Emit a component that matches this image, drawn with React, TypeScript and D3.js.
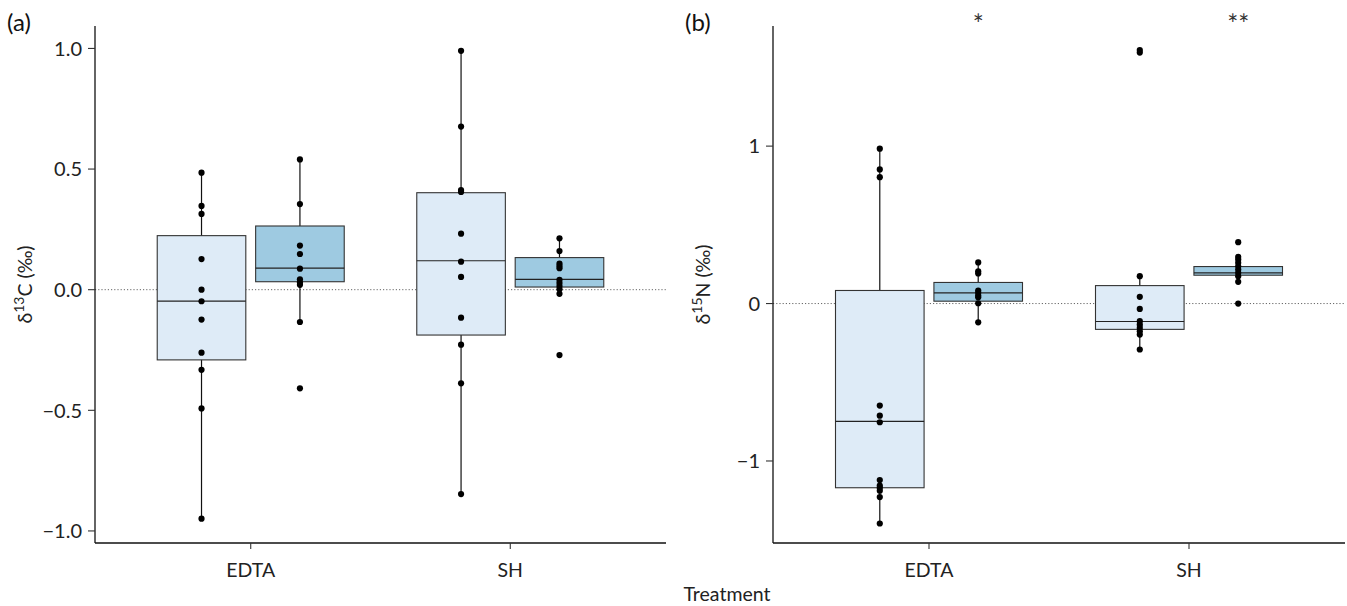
import React from "react";
import * as d3 from "d3";

// categories
const treatments = ["EDTA", "SH"];
const groups = ["untreated", "treated"];

// panel (a) δ13C — raw points
const aEdtaLight = [0.485, 0.347, 0.314, 0.127, 0.0, -0.048, -0.124, -0.261, -0.332, -0.492, -0.949];
const aEdtaDark = [0.54, 0.355, 0.183, 0.148, 0.087, 0.043, 0.03, 0.02, -0.134, -0.409];
const aShLight = [0.99, 0.676, 0.413, 0.405, 0.232, 0.116, 0.053, -0.116, -0.228, -0.388, -0.847];
const aShDark = [0.213, 0.16, 0.108, 0.098, 0.089, 0.041, 0.028, 0.015, 0.002, -0.017, -0.271];

// panel (a) box stats: [whisker low, q1, median, q3, whisker high]
const aEdtaLightBox = [-0.949, -0.291, -0.047, 0.224, 0.485];
const aEdtaDarkBox = [-0.134, 0.033, 0.089, 0.264, 0.54];
const aShLightBox = [-0.847, -0.188, 0.12, 0.402, 0.99];
const aShDarkBox = [-0.017, 0.011, 0.043, 0.133, 0.213];

// panel (b) δ15N — raw points
const bEdtaLight = [0.984, 0.852, 0.803, -0.648, -0.712, -0.754, -1.121, -1.157, -1.172, -1.189, -1.229, -1.397];
const bEdtaDark = [0.261, 0.205, 0.191, 0.083, 0.068, 0.051, 0.04, 0.002, -0.119];
const bShLight = [1.61, 1.594, 0.174, 0.043, -0.034, -0.112, -0.134, -0.155, -0.176, -0.197, -0.292];
const bShDark = [0.39, 0.297, 0.28, 0.259, 0.237, 0.216, 0.195, 0.174, 0.138, 0.0];

// panel (b) box stats
const bEdtaLightBox = [-1.397, -1.17, -0.748, 0.083, 0.984];
const bEdtaDarkBox = [-0.119, 0.015, 0.068, 0.134, 0.261];
const bShLightBox = [-0.292, -0.164, -0.114, 0.114, 0.174];
const bShDarkBox = [0.138, 0.18, 0.195, 0.235, 0.297];

// significance marks over treated boxes
const bSignif = ["*", "**"];

// tick labels
const aTicks = [-1, -0.5, 0, 0.5, 1];
const bTicks = [-1, 0, 1];

const FONT = "Lato, 'DejaVu Sans', sans-serif";
const fills: Record<string, string> = { untreated: "#deebf7", treated: "#9ecae1" };

type Cell = { treatment: string; group: string; points: number[]; box: number[] };

const aCells: Cell[] = [
  { treatment: "EDTA", group: "untreated", points: aEdtaLight, box: aEdtaLightBox },
  { treatment: "EDTA", group: "treated", points: aEdtaDark, box: aEdtaDarkBox },
  { treatment: "SH", group: "untreated", points: aShLight, box: aShLightBox },
  { treatment: "SH", group: "treated", points: aShDark, box: aShDarkBox },
];
const bCells: Cell[] = [
  { treatment: "EDTA", group: "untreated", points: bEdtaLight, box: bEdtaLightBox },
  { treatment: "EDTA", group: "treated", points: bEdtaDark, box: bEdtaDarkBox },
  { treatment: "SH", group: "untreated", points: bShLight, box: bShLightBox },
  { treatment: "SH", group: "treated", points: bShDark, box: bShDarkBox },
];

const top = 26;
const bottom = 543;

const fmtA = (v: number) => d3.format(".1f")(v).replace("-", "−");
const fmtB = (v: number) => d3.format("d")(v).replace("-", "−");

function Panel({
  left, right, cells, domain, ticks, fmt, label, sup, elem, signif,
}: {
  left: number; right: number; cells: Cell[]; domain: [number, number];
  ticks: number[]; fmt: (v: number) => string; label: string; sup: string; elem: string;
  signif?: string[];
}) {
  const x = d3.scalePoint().domain(treatments).range([left, right]).padding(0.6);
  const dodge = d3.scaleBand().domain(groups).range([-93.5, 93.5]).paddingInner(0.1);
  const y = d3.scaleLinear().domain(domain).range([bottom, top]);
  const bw = dodge.bandwidth();
  const cx = (c: Cell) => (x(c.treatment) as number) + (dodge(c.group) as number) + bw / 2;

  return (
    <g>
      <text x={left - 88} y={31} fontSize={24} fontFamily={FONT} fill="#111">{label}</text>
      {/* zero reference */}
      <line x1={left} x2={right} y1={y(0)} y2={y(0)} stroke="#666" strokeWidth={1} strokeDasharray="1.2 2" />
      {cells.map((c, i) => {
        const [lo, q1, med, q3, hi] = c.box;
        const xc = cx(c);
        return (
          <g key={i}>
            <line x1={xc} x2={xc} y1={y(lo)} y2={y(hi)} stroke="#111" strokeWidth={1.2} />
            <rect x={xc - bw / 2} y={y(q3)} width={bw} height={y(q1) - y(q3)}
              fill={fills[c.group]} stroke="#333" strokeWidth={1.1} />
            <line x1={xc - bw / 2} x2={xc + bw / 2} y1={y(med)} y2={y(med)} stroke="#222" strokeWidth={1.2} />
            {c.points.map((p, j) => (
              <circle key={j} cx={xc} cy={y(p)} r={3.1} fill="#000" />
            ))}
          </g>
        );
      })}
      {signif && cells.filter((c) => c.group === "treated").map((c, i) => (
        <text key={i} x={cx(c)} y={34} textAnchor="middle" fontSize={26} fontFamily={FONT} fill="#333">
          {signif[i]}
        </text>
      ))}
      {/* y axis */}
      <line x1={left} x2={left} y1={top} y2={bottom} stroke="#111" strokeWidth={1.3} />
      {ticks.map((t) => (
        <g key={t}>
          <line x1={left - 7} x2={left} y1={y(t)} y2={y(t)} stroke="#333" strokeWidth={1.1} />
          <text x={left - 13} y={y(t)} dy="0.36em" textAnchor="end" fontSize={20} fontFamily={FONT} fill="#222">
            {fmt(t)}
          </text>
        </g>
      ))}
      {/* x axis */}
      <line x1={left} x2={right} y1={bottom} y2={bottom} stroke="#111" strokeWidth={1.3} />
      {treatments.map((t) => (
        <g key={t}>
          <line x1={x(t)} x2={x(t)} y1={bottom} y2={bottom + 6} stroke="#333" strokeWidth={1.1} />
          <text x={x(t)} y={bottom + 34} textAnchor="middle" fontSize={19.5} fontFamily={FONT} fill="#222">{t}</text>
        </g>
      ))}
      <text transform={`translate(${left - 63},${(top + bottom) / 2}) rotate(-90)`} textAnchor="middle"
        fontSize={19.5} fontFamily={FONT} fill="#222">
        δ<tspan dy={-8} fontSize={14}>{sup}</tspan><tspan dy={8}>{elem} (‰)</tspan>
      </text>
    </g>
  );
}

export default function App() {
  return (
    <svg width={1347} height={606} style={{ position: "absolute", left: 0, top: 0, background: "#fff" }}>
      <Panel left={95} right={666} cells={aCells} domain={[-1.05, 1.093]} ticks={aTicks} fmt={fmtA}
        label="(a)" sup="13" elem="C" />
      <Panel left={773} right={1345} cells={bCells} domain={[-1.521, 1.763]} ticks={bTicks} fmt={fmtB}
        label="(b)" sup="15" elem="N" signif={bSignif} />
      <text x={727} y={601} textAnchor="middle" fontSize={19.5} fontFamily={FONT} fill="#222">Treatment</text>
    </svg>
  );
}
